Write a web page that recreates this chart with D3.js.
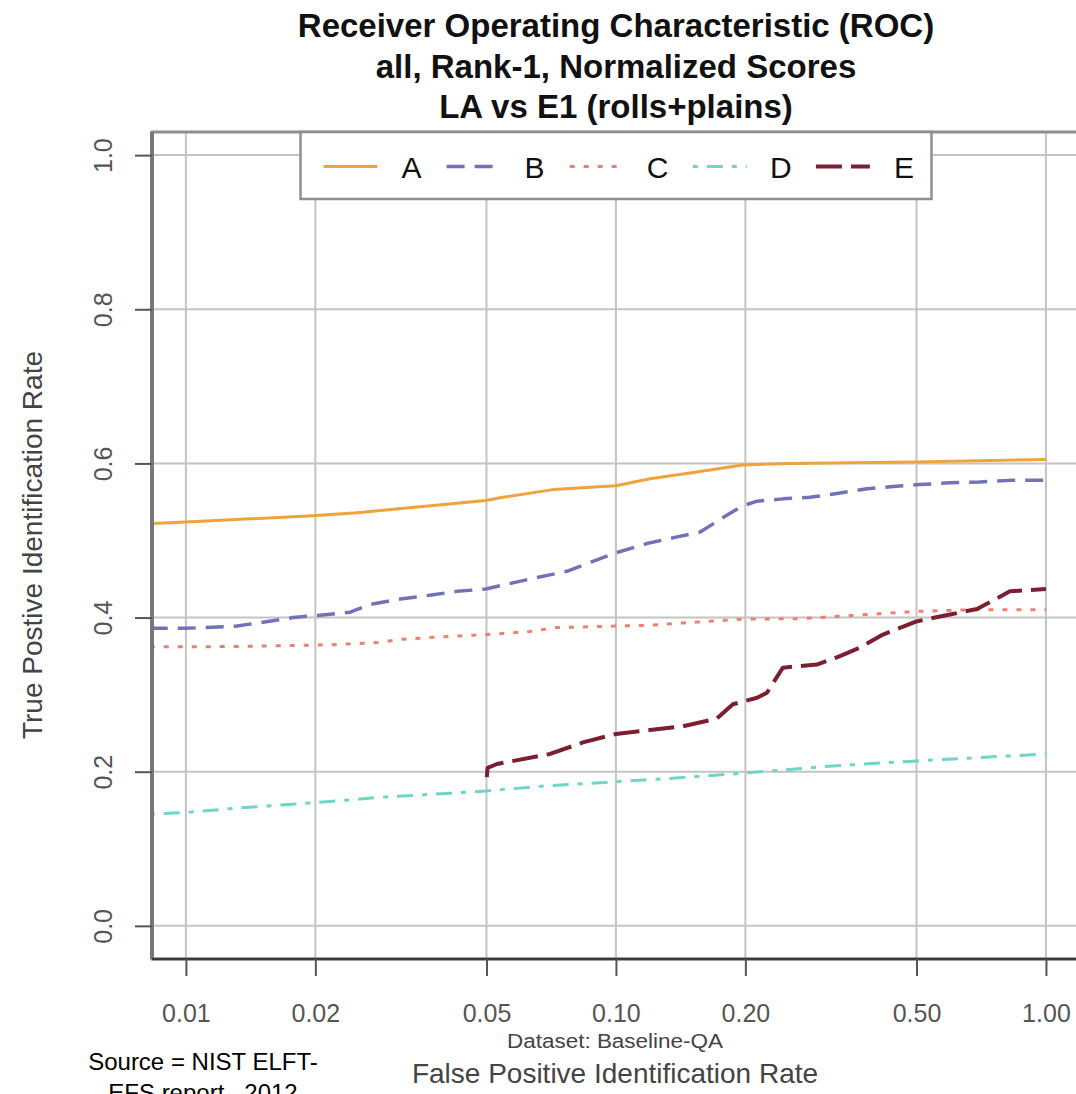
<!DOCTYPE html>
<html>
<head>
<meta charset="utf-8">
<script src="https://cdn.jsdelivr.net/npm/d3@7/dist/d3.min.js"></script>
<style>
    body { margin: 0; background: #fff; }
    svg { display: block; }
    text { font-family: "Liberation Sans", Arial, Helvetica, sans-serif; }
</style>
</head>
<body>
<svg id="chart" width="1076" height="1094"></svg>
<script>

// ---- data ----
const titleLines = ["Receiver Operating Characteristic (ROC)", "all, Rank-1, Normalized Scores", "LA vs E1 (rolls+plains)"];
const seriesNames = ["A", "B", "C", "D", "E"];

const fpirTicks = [0.01, 0.02, 0.05, 0.1, 0.2, 0.5, 1.0];
const fpirTickLabels = ["0.01", "0.02", "0.05", "0.10", "0.20", "0.50", "1.00"];
const tpirTicks = [0.0, 0.2, 0.4, 0.6, 0.8, 1.0];
const tpirTickLabels = ["0.0", "0.2", "0.4", "0.6", "0.8", "1.0"];

const aFpir = [0.00834, 0.01, 0.0197, 0.025, 0.0498, 0.0546, 0.0714, 0.1, 0.12, 0.15, 0.197, 0.254, 0.5, 1.0];
const aTpir = [0.522, 0.524, 0.532, 0.536, 0.552, 0.556, 0.566, 0.571, 0.580, 0.588, 0.598, 0.600, 0.602, 0.605];

const bFpir = [0.00824, 0.00995, 0.01314, 0.0151, 0.01774, 0.0205, 0.0241, 0.0268, 0.0315, 0.0369, 0.0427, 0.0498,
    0.0576, 0.0655, 0.0769, 0.0884, 0.1, 0.118, 0.137, 0.157, 0.179, 0.197, 0.213, 0.2445, 0.2826, 0.3266,
    0.3835, 0.4406, 0.509, 0.598, 0.702, 0.8246, 1.0];
const bTpir = [0.386, 0.386, 0.389, 0.394, 0.400, 0.403, 0.407, 0.417, 0.424, 0.429, 0.434, 0.437,
    0.445, 0.452, 0.460, 0.473, 0.484, 0.496, 0.504, 0.511, 0.531, 0.545, 0.551, 0.554, 0.556, 0.561,
    0.567, 0.570, 0.5725, 0.575, 0.576, 0.578, 0.578];

const cFpir = [0.00824, 0.00995, 0.01409, 0.0187, 0.02245, 0.0278, 0.032, 0.0396, 0.0501, 0.0631, 0.0729, 0.1,
    0.12, 0.1432, 0.197, 0.268, 0.3835, 0.5, 0.655, 1.0];
const cTpir = [0.362, 0.362, 0.3627, 0.364, 0.365, 0.3675, 0.372, 0.375, 0.378, 0.382, 0.387, 0.389,
    0.390, 0.393, 0.398, 0.3985, 0.404, 0.408, 0.410, 0.410];

const dFpir = [0.00824, 0.00995, 0.01409, 0.02017, 0.0287, 0.0411, 0.0498, 0.0703, 0.1, 0.12, 0.1314, 0.197, 0.3197, 0.5, 1.0];
const dTpir = [0.145, 0.147, 0.154, 0.160, 0.167, 0.172, 0.175, 0.182, 0.187, 0.190, 0.191, 0.198, 0.2075, 0.214, 0.223];

const eFpir = [0.0501, 0.0503, 0.0529, 0.0703, 0.0838, 0.1, 0.12, 0.1432, 0.1717, 0.1871, 0.213, 0.2245, 0.2445,
    0.2934, 0.3319, 0.3693, 0.4178, 0.5, 0.598, 0.691, 0.8246, 1.0];
const eTpir = [0.193, 0.205, 0.210, 0.223, 0.238, 0.249, 0.254, 0.259, 0.269, 0.2875, 0.296, 0.3025, 0.335,
    0.339, 0.350, 0.361, 0.378, 0.395, 0.404, 0.411, 0.434, 0.437];

// axis limits of the plot box (R pads the data range)
const fpirLimits = [0.00834, 1.2];
const tpirLimits = [-0.043, 1.03];

// ---- styles, kept apart from the data ----
const seriesStyle = {
    A: {color: "#f0a23c", width: 3, dash: null},
    B: {color: "#7272b8", width: 3.5, dash: "18,10"},
    C: {color: "#ee7f72", width: 3, dash: "5,9"},
    D: {color: "#6dd6c6", width: 3, dash: "5,9,16,9"},
    E: {color: "#7b1f31", width: 4, dash: "26,9"}
};

const box = {left: 152, right: 1080, top: 132, bottom: 959};

let svg = d3.select("#chart");

let x = d3.scaleLog().domain(fpirLimits).range([box.left, box.right]);
let y = d3.scaleLinear().domain(tpirLimits).range([box.bottom, box.top]);

let zip = (xs, ys) => xs.map((v, i) => [v, ys[i]]);
let series = [
    {name: "A", values: zip(aFpir, aTpir)},
    {name: "B", values: zip(bFpir, bTpir)},
    {name: "C", values: zip(cFpir, cTpir)},
    {name: "D", values: zip(dFpir, dTpir)},
    {name: "E", values: zip(eFpir, eTpir)}
];

svg.append("rect").attr("width", 1076).attr("height", 1094).attr("fill", "#fff");

svg.append("clipPath").attr("id", "plotClip")
    .append("rect")
    .attr("x", box.left).attr("y", box.top)
    .attr("width", box.right - box.left).attr("height", box.bottom - box.top);

// grid lines
let grid = svg.append("g").attr("stroke", "#c4c4c4").attr("stroke-width", 2);
grid.selectAll("line.v").data(fpirTicks).enter().append("line")
    .attr("class", "v")
    .attr("x1", d => x(d)).attr("x2", d => x(d))
    .attr("y1", box.top).attr("y2", box.bottom);
grid.selectAll("line.h").data(tpirTicks).enter().append("line")
    .attr("class", "h")
    .attr("x1", box.left).attr("x2", box.right)
    .attr("y1", d => y(d)).attr("y2", d => y(d));

// curves
let line = d3.line().x(d => x(d[0])).y(d => y(d[1]));
svg.append("g").attr("clip-path", "url(#plotClip)")
    .selectAll("path").data(series).enter().append("path")
    .attr("d", d => line(d.values))
    .attr("fill", "none")
    .attr("stroke", d => seriesStyle[d.name].color)
    .attr("stroke-width", d => seriesStyle[d.name].width)
    .attr("stroke-dasharray", d => seriesStyle[d.name].dash)
    .attr("stroke-linejoin", "round");

// frame: grey box, heavier left side, dark bottom
svg.append("rect")
    .attr("x", box.left).attr("y", box.top)
    .attr("width", box.right - box.left).attr("height", box.bottom - box.top)
    .attr("fill", "none").attr("stroke", "#8e8e8e").attr("stroke-width", 3);
svg.append("line")
    .attr("x1", box.left).attr("x2", box.left).attr("y1", box.top).attr("y2", box.bottom)
    .attr("stroke", "#777").attr("stroke-width", 4);
svg.append("line")
    .attr("x1", box.left).attr("x2", box.right).attr("y1", box.bottom).attr("y2", box.bottom)
    .attr("stroke", "#3a3a3a").attr("stroke-width", 2.5);

// x axis
let xAxis = d3.axisBottom(x)
    .tickValues(fpirTicks)
    .tickFormat((d, i) => fpirTickLabels[i])
    .tickSize(17)
    .tickPadding(28);
let gx = svg.append("g").attr("transform", `translate(0,${box.bottom})`).call(xAxis);
gx.select(".domain").remove();
gx.selectAll(".tick line").attr("stroke", "#555").attr("stroke-width", 2);
gx.selectAll(".tick text")
    .attr("fill", "#555")
    .style("font-size", "25px")
    .style("font-family", "\"Liberation Sans\", Arial, sans-serif");

// y axis, labels turned like R's las = 0
let yAxis = d3.axisLeft(y)
    .tickValues(tpirTicks)
    .tickFormat((d, i) => tpirTickLabels[i])
    .tickSize(17);
let gy = svg.append("g").attr("transform", `translate(${box.left},0)`).call(yAxis);
gy.select(".domain").remove();
gy.selectAll(".tick line").attr("stroke", "#555").attr("stroke-width", 2);
gy.selectAll(".tick text")
    .attr("x", null).attr("dy", null)
    .attr("transform", `translate(${112 - box.left},0) rotate(-90)`)
    .attr("text-anchor", "middle")
    .attr("fill", "#555")
    .style("font-size", "25px")
    .style("font-family", "\"Liberation Sans\", Arial, sans-serif");

// legend
let legend = svg.append("g");
legend.append("rect")
    .attr("x", 300.5).attr("y", box.top)
    .attr("width", 631).attr("height", 67)
    .attr("fill", "#fff").attr("stroke", "#8e8e8e").attr("stroke-width", 2.5);
let item = legend.selectAll("g").data(seriesNames).enter().append("g")
    .attr("transform", (d, i) => `translate(${323.5 + i * 123.1},166.5)`);
item.append("line")
    .attr("x1", 0).attr("x2", 54).attr("y1", 0).attr("y2", 0)
    .attr("stroke", d => seriesStyle[d].color)
    .attr("stroke-width", d => seriesStyle[d].width)
    .attr("stroke-dasharray", d => seriesStyle[d].dash);
item.append("text")
    .attr("x", 88).attr("y", 11)
    .attr("text-anchor", "middle")
    .style("font-size", "30px")
    .attr("fill", "#111")
    .text(d => d);

// titles
svg.append("g").selectAll("text").data(titleLines).enter().append("text")
    .attr("x", 616).attr("y", (d, i) => 37 + i * 40.5)
    .attr("text-anchor", "middle")
    .style("font-size", "33px").style("font-weight", "bold")
    .attr("fill", "#111")
    .text(d => d);

svg.append("text")
    .attr("transform", "translate(42,545) rotate(-90)")
    .attr("text-anchor", "middle")
    .style("font-size", "28px").attr("fill", "#444")
    .text("True Postive Identification Rate");

svg.append("text")
    .attr("x", 615).attr("y", 1048)
    .attr("text-anchor", "middle")
    .attr("textLength", 216).attr("lengthAdjust", "spacingAndGlyphs")
    .style("font-size", "20px").attr("fill", "#444")
    .text("Dataset: Baseline-QA");

svg.append("text")
    .attr("x", 615).attr("y", 1083)
    .attr("text-anchor", "middle")
    .style("font-size", "28px").attr("fill", "#444")
    .text("False Positive Identification Rate");

// source note in the lower left corner (second line runs off the page, as in the original)
svg.append("g").selectAll("text").data(["Source = NIST ELFT-", "EFS report , 2012"]).enter().append("text")
    .attr("x", 203).attr("y", (d, i) => 1070 + i * 31)
    .attr("text-anchor", "middle")
    .style("font-size", "24px").attr("fill", "#000")
    .text(d => d);

</script>
</body>
</html>
